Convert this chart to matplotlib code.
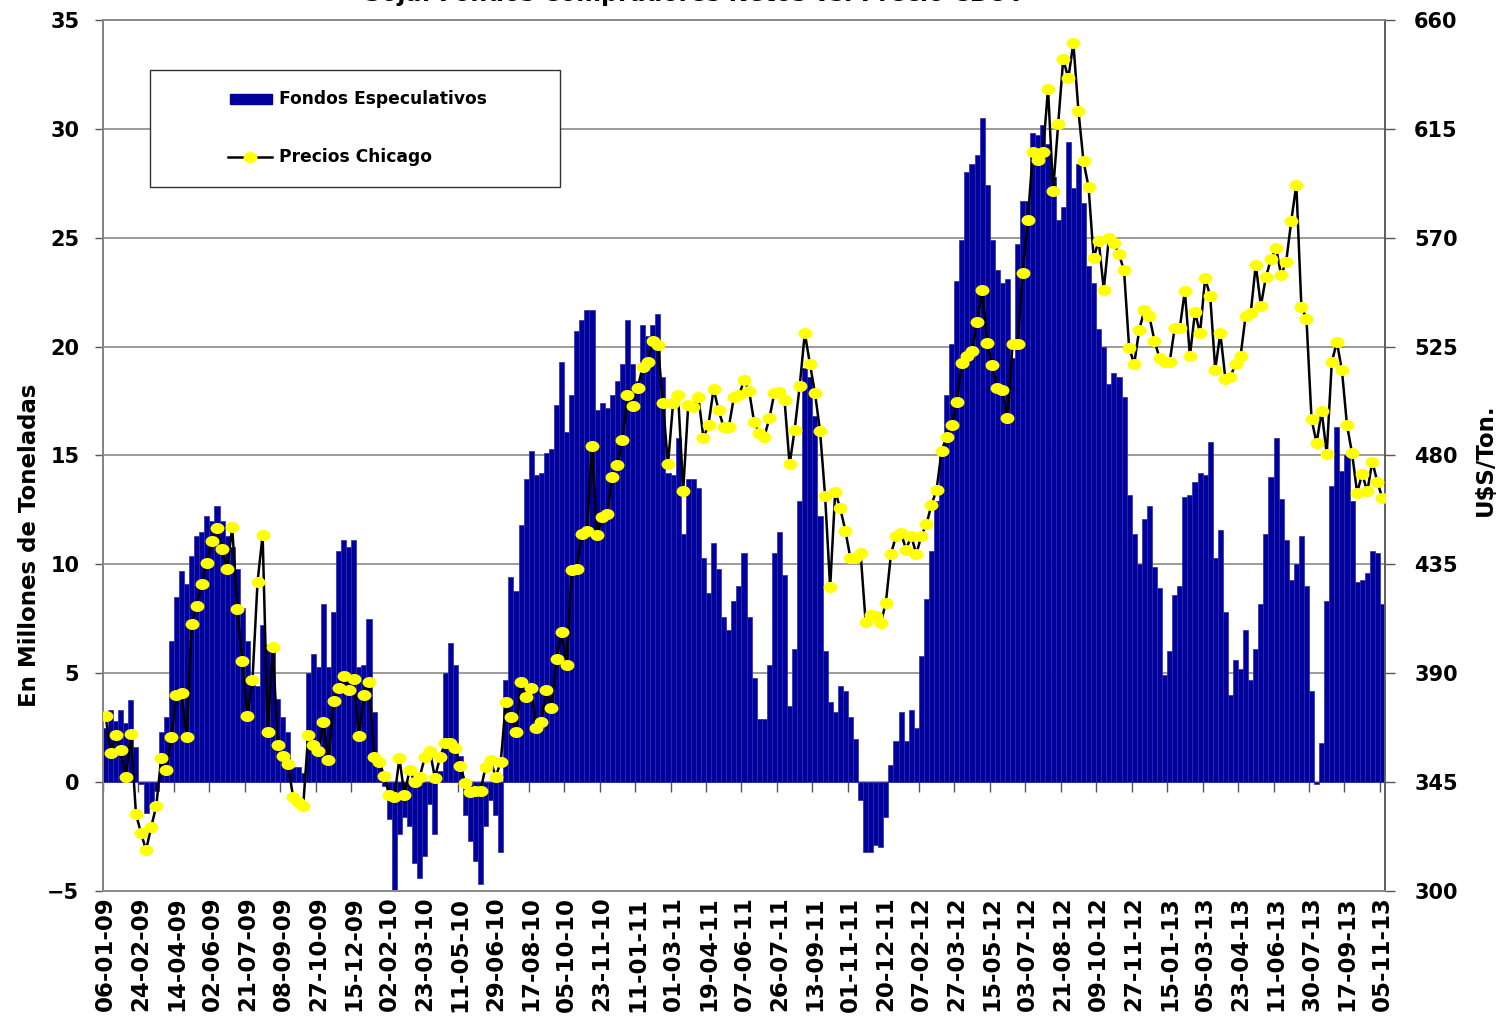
import numpy as np
import matplotlib
matplotlib.use('Agg')
import matplotlib.pyplot as plt
from matplotlib.path import Path
from matplotlib.transforms import Affine2D
from matplotlib.patches import Rectangle
from matplotlib.lines import Line2D

# posicion neta semanal de los fondos (millones de toneladas)
fondos = [
    2.5, 3.3, 2.8, 3.3, 2.7, 3.75, 1.6, -0.1, -1.4, -1.0,
    -0.4, 2.3, 3.0, 6.5, 8.5, 9.7, 9.1, 10.4, 11.3, 11.5,
    12.2, 12.0, 12.7, 12.0, 11.3, 10.8, 9.8, 8.0, 6.5, 4.5,
    4.4, 7.2, 6.3, 6.0, 3.8, 3.0, 2.3, 0.7, 0.7, 0.4,
    5.0, 5.9, 5.3, 8.2, 5.3, 7.8, 10.6, 11.1, 10.8, 11.1,
    5.3, 5.4, 7.5, 3.2, 0.7, -0.2, -1.7, -5.0, -2.4, -1.6,
    -2.0, -3.7, -4.4, -3.4, -1.0, -2.4, 0.5, 5.0, 6.4, 5.4,
    1.2, -1.5, -2.7, -3.6, -4.7, -2.0, -0.8, -1.5, -3.2, 4.7,
    9.4, 8.8, 11.8, 13.9, 15.2, 14.1, 14.2, 15.1, 15.3, 17.3,
    19.3, 16.1, 17.8, 20.7, 21.2, 21.7, 21.7, 17.1, 17.4, 17.2,
    17.8, 18.4, 19.2, 21.2, 19.2, 18.4, 21.0, 20.5, 21.0, 21.5,
    18.6, 14.2, 14.1, 15.8, 11.4, 13.9, 13.9, 13.5, 10.3, 8.7,
    11.0, 9.8, 7.6, 7.0, 8.3, 9.0, 10.5, 7.6, 4.8, 2.9,
    2.9, 5.4, 10.5, 11.5, 9.5, 3.5, 6.1, 12.9, 19.0, 18.6,
    16.8, 12.2, 6.0, 3.7, 3.2, 4.4, 4.2, 3.0, 2.0, -0.8,
    -3.2, -3.2, -2.9, -3.0, -1.6, 0.8, 1.9, 3.2, 1.9, 3.3,
    2.5, 5.8, 8.4, 10.6, 12.9, 15.2, 17.8, 20.1, 23.0, 24.9,
    28.0, 28.4, 28.8, 30.5, 27.4, 24.9, 23.5, 22.9, 23.1, 19.5,
    24.7, 26.7, 26.7, 29.8, 29.7, 30.2, 29.3, 27.8, 25.8, 26.4,
    29.4, 27.3, 28.4, 26.6, 23.7, 22.9, 20.8, 20.0, 18.3, 18.8,
    18.6, 17.7, 13.2, 11.4, 10.0, 12.1, 12.7, 9.9, 8.9, 4.9,
    6.0, 8.6, 9.0, 13.1, 13.2, 13.8, 14.2, 14.1, 15.6, 10.3,
    11.6, 7.8, 4.0, 5.6, 5.2, 7.0, 4.7, 6.1, 8.2, 11.4,
    14.0, 15.8, 13.0, 11.1, 9.3, 10.0, 11.3, 9.0, 4.2, -0.1,
    1.8, 8.3, 13.6, 16.3, 14.3, 15.0, 12.9, 9.2, 9.3, 9.6,
    10.6, 10.5, 8.2,
]

# precio de la soja en Chicago (U$S/Ton.)
precios = [
    372.5, 357.2, 364.3, 358.3, 347.2, 365.0, 331.9, 324.0, 316.9, 326.4,
    335.0, 355.0, 350.0, 363.5, 380.9, 381.7, 363.5, 410.4, 418.0, 426.7,
    435.7, 444.5, 450.0, 441.4, 433.0, 450.4, 416.7, 395.0, 372.5, 387.2,
    427.8, 447.2, 365.9, 401.0, 360.3, 355.6, 352.4, 339.0, 336.6, 335.0,
    364.6, 360.3, 358.0, 369.8, 354.0, 378.5, 384.0, 388.8, 383.0, 387.5,
    364.0, 380.9, 386.4, 355.5, 353.4, 347.5, 339.6, 338.9, 354.8, 339.6,
    350.2, 345.1, 347.2, 355.2, 357.9, 346.9, 355.2, 361.0, 361.0, 358.9,
    351.6, 344.7, 341.0, 341.4, 341.4, 351.3, 354.1, 347.2, 353.4, 378.2,
    372.0, 365.8, 386.4, 380.2, 383.7, 367.2, 369.9, 383.0, 375.8, 396.0,
    407.0, 393.3, 432.5, 433.2, 447.6, 449.0, 484.1, 447.0, 454.5, 455.9,
    471.0, 475.9, 486.5, 504.8, 500.6, 507.9, 516.5, 518.5, 527.5, 525.8,
    501.6, 476.3, 501.6, 504.8, 465.5, 501.0, 500.2, 504.0, 487.3, 492.8,
    507.5, 498.6, 491.7, 491.7, 504.0, 504.8, 511.0, 506.7, 493.8, 489.2,
    487.7, 495.3, 505.9, 506.4, 502.9, 476.3, 490.7, 508.9, 530.6, 518.0,
    505.9, 490.3, 463.4, 425.5, 465.0, 458.1, 449.0, 437.6, 437.6, 439.9,
    411.3, 414.0, 413.5, 410.7, 419.2, 439.2, 446.8, 447.8, 441.1, 446.8,
    439.2, 446.8, 451.6, 459.6, 465.8, 482.0, 487.7, 492.5, 502.0, 518.2,
    521.0, 523.0, 535.3, 548.6, 526.7, 517.2, 507.7, 507.0, 495.5, 526.2,
    526.2, 555.6, 577.3, 605.3, 602.2, 605.3, 631.6, 589.5, 617.0, 643.8,
    636.0, 650.3, 622.5, 601.6, 591.0, 561.7, 568.8, 548.5, 569.8, 568.0,
    563.1, 556.6, 524.6, 517.8, 532.0, 540.0, 537.5, 527.5, 520.3, 518.6,
    518.6, 532.7, 532.7, 548.1, 521.2, 539.2, 530.6, 553.2, 546.0, 515.5,
    530.6, 511.8, 512.6, 517.8, 521.2, 537.8, 538.9, 558.9, 541.8, 553.8,
    561.1, 565.8, 554.6, 560.1, 576.9, 592.0, 541.3, 536.6, 495.0, 485.2,
    498.4, 480.6, 518.6, 526.9, 515.2, 492.6, 480.9, 464.6, 472.4, 465.2,
    477.5, 468.9, 462.4,
]

fechas = [
    '06-01-09', '24-02-09', '14-04-09', '02-06-09', '21-07-09', '08-09-09',
    '27-10-09', '15-12-09', '02-02-10', '23-03-10', '11-05-10', '29-06-10',
    '17-08-10', '05-10-10', '23-11-10', '11-01-11', '01-03-11', '19-04-11',
    '07-06-11', '26-07-11', '13-09-11', '01-11-11', '20-12-11', '07-02-12',
    '27-03-12', '15-05-12', '03-07-12', '21-08-12', '09-10-12', '27-11-12',
    '15-01-13', '05-03-13', '23-04-13', '11-06-13', '30-07-13', '17-09-13',
    '05-11-13',
]

plt.rcParams['font.family'] = ['DejaVu Sans']
plt.rcParams['font.weight'] = 'bold'

W, H = 1499, 1022
AZUL = '#00009C'
AMARILLO = '#FFFF00'
GRIS = '#8a8a8a'


def fx(px):
    return px / W


def fy(py):
    return 1 - py / H


fig = plt.figure(figsize=(W / 100, H / 100), dpi=100)
fig.patch.set_facecolor('white')
ax = fig.add_axes([fx(103), fy(891), fx(1385) - fx(103), fy(20) - fy(891)])

semanas = np.arange(len(fondos))
ax.bar(semanas, fondos, width=1.0, color=AZUL, edgecolor='#2a2aa8',
       linewidth=0.5, zorder=2)
ax.set_xlim(-0.5, len(fondos) - 0.5)
ax.set_ylim(-5, 35)
ax.set_yticks(range(-5, 36, 5))
ax.yaxis.grid(True, color=GRIS, linewidth=1.2)
ax.set_axisbelow(True)

ax.set_xticks(semanas[::7])
ax.set_xticklabels(fechas, rotation=90, fontsize=16.5, fontweight='bold')
ax.tick_params(axis='x', length=0, pad=4)
ax.tick_params(axis='y', direction='out', length=6, width=1, color='#555555',
               labelsize=15, pad=11)

# marcas del eje de categorias sobre la linea del cero
eje_cero = ax.secondary_xaxis(5 / 40)
eje_cero.set_xticks(np.arange(-0.5, len(fondos), 7))
eje_cero.tick_params(axis='x', length=7, width=1, color='#555555',
                     labelbottom=False)
eje_cero.spines['bottom'].set_visible(False)

for lado in ['left', 'right', 'top', 'bottom']:
    ax.spines[lado].set_color(GRIS)
    ax.spines[lado].set_linewidth(1.2)
ax.spines['left'].set_color('#555555')

ax2 = ax.twinx()
elipse = Path.unit_circle().transformed(Affine2D().scale(1.3, 1.0))
ax2.plot(semanas, precios, color='black', linewidth=1.8, marker=elipse,
         markersize=9, markerfacecolor=AMARILLO, markeredgecolor=AMARILLO,
         zorder=3)
ax2.set_ylim(300, 660)
ax2.set_yticks(range(300, 661, 45))
ax2.tick_params(axis='y', direction='out', length=7, width=1, color='#555555',
                labelsize=15, pad=14)
for lado in ['left', 'right', 'top', 'bottom']:
    ax2.spines[lado].set_color(GRIS)
    ax2.spines[lado].set_linewidth(1.2)
ax2.spines['right'].set_color('#555555')

fig.text(fx(30), fy(545), 'En Millones de Toneladas', rotation=90,
         ha='center', va='center', fontsize=16.5, fontweight='bold')
fig.text(fx(1485), fy(460), 'U$S/Ton.', rotation=90,
         ha='center', va='center', fontsize=16.5, fontweight='bold')

# titulo cortado por el borde superior
fig.text(fx(364), fy(1.5), 'Soja: Fondos Compradores Netos vs. Precio CBOT',
         ha='left', va='baseline', fontsize=17, fontweight='bold')

# leyenda
fig.add_artist(Rectangle((fx(150), fy(187)), fx(560) - fx(150), fy(70) - fy(187),
                         transform=fig.transFigure, facecolor='white',
                         edgecolor='#333333', linewidth=1.0, zorder=5))
fig.add_artist(Rectangle((fx(230), fy(104)), fx(272) - fx(230), fy(94) - fy(104),
                         transform=fig.transFigure, facecolor=AZUL,
                         edgecolor=AZUL, zorder=6))
fig.add_artist(Line2D([fx(228), fx(272)], [fy(157), fy(157)],
                      transform=fig.transFigure, color='black', linewidth=1.8,
                      zorder=6))
fig.add_artist(Line2D([fx(250)], [fy(157)], transform=fig.transFigure,
                      marker=elipse, markersize=9, markerfacecolor=AMARILLO,
                      markeredgecolor=AMARILLO, linestyle='none', zorder=7))
fig.text(fx(279), fy(99), 'Fondos Especulativos', ha='left', va='center',
         fontsize=12.3, fontweight='bold', zorder=7)
fig.text(fx(279), fy(157), 'Precios Chicago', ha='left', va='center',
         fontsize=12.3, fontweight='bold', zorder=7)

fig.savefig('out.png', dpi=100, facecolor='white')
